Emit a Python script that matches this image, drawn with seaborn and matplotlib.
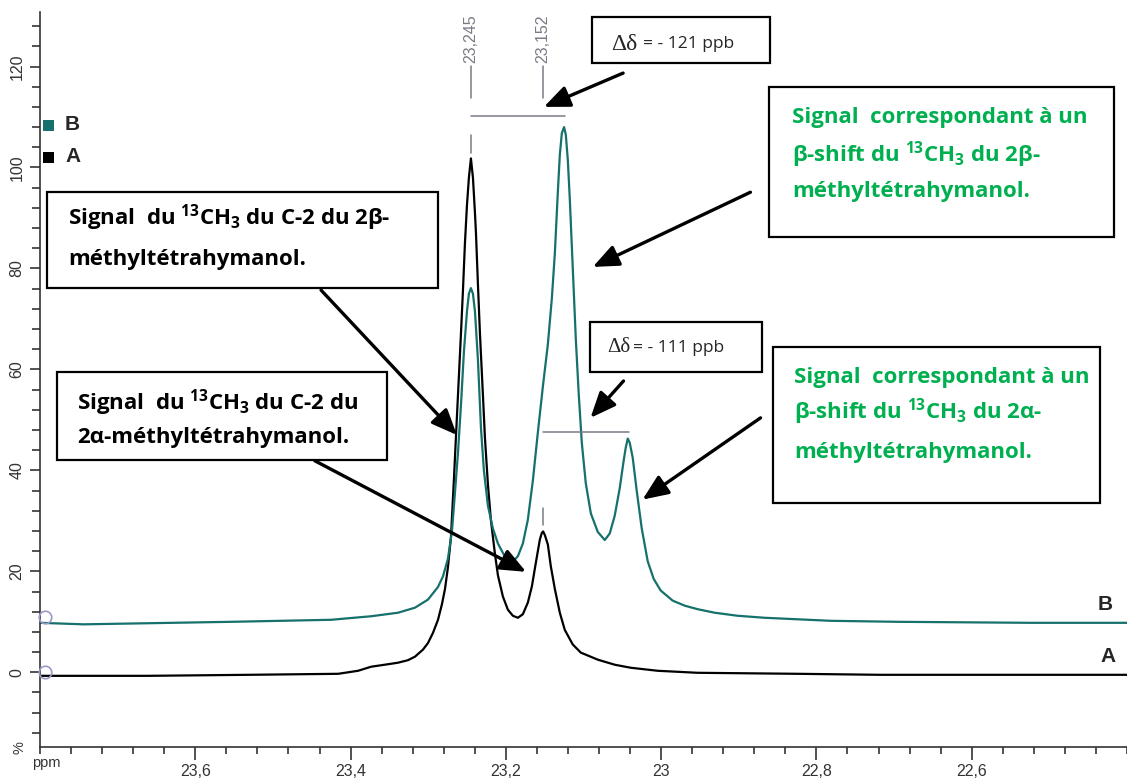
import pandas as pd
import matplotlib
matplotlib.use('Agg')
import matplotlib.pyplot as plt
from matplotlib.patches import Rectangle
from matplotlib.ticker import FixedLocator, MultipleLocator
import seaborn as sns

# spectrum A (black): ppm / intensity %
ppm_a = [23.800, 23.6604, 23.5318, 23.4160, 23.3903, 23.3736, 23.3517, 23.3389, 23.3260, 23.3170,
         23.3067, 23.3003, 23.2939, 23.2874, 23.2823, 23.2784, 23.2746, 23.2707, 23.2668, 23.2643,
         23.2617, 23.2578, 23.2553, 23.2527, 23.2501, 23.2476, 23.2450, 23.2424, 23.2398, 23.2385,
         23.2360, 23.2334, 23.2295, 23.2270, 23.2231, 23.2193, 23.2141, 23.2102, 23.2038, 23.1974,
         23.1910, 23.1845, 23.1781, 23.1717, 23.1665, 23.1627, 23.1588, 23.1562, 23.1537, 23.1520,
         23.1498, 23.1459, 23.1421, 23.1369, 23.1305, 23.1241, 23.1138, 23.1035, 23.0816, 23.0598,
         23.0392, 23.0045, 22.9530, 22.8244, 22.7176, 22.400]
int_a = [-0.7, -0.7, -0.5, -0.3, 0.3, 1.1, 1.6, 1.9, 2.4, 3.1,
         4.5, 5.8, 7.8, 10.4, 13.5, 16.5, 20.8, 26.8, 38.5, 46.6,
         54.8, 67.2, 75.5, 85.0, 92.5, 98.0, 101.8, 98.0, 91.0, 87.0,
         77.0, 67.2, 54.8, 46.6, 37.2, 30.2, 23.5, 19.2, 15.0, 12.4,
         11.2, 10.8, 11.5, 13.8, 17.0, 20.5, 24.0, 26.3, 27.6, 27.9,
         27.2, 25.3, 21.0, 16.5, 11.8, 8.4, 5.5, 3.9, 2.5, 1.5,
         0.9, 0.3, -0.1, -0.3, -0.5, -0.5]

# spectrum B (teal)
ppm_b = [23.800, 23.744, 23.5537, 23.4251, 23.3736, 23.3389, 23.3170, 23.3003, 23.2874, 23.2810,
         23.2746, 23.2694, 23.2656, 23.2617, 23.2578, 23.2540, 23.2501, 23.2476, 23.2450, 23.2424,
         23.2398, 23.2360, 23.2321, 23.2283, 23.2231, 23.2167, 23.2102, 23.2012, 23.1910, 23.1845,
         23.1781, 23.1717, 23.1652, 23.1588, 23.1524, 23.1459, 23.1408, 23.1369, 23.1331, 23.1305,
         23.1279, 23.1250, 23.1228, 23.1202, 23.1176, 23.1138, 23.1099, 23.1061, 23.1022, 23.0971,
         23.0906, 23.0816, 23.0726, 23.0662, 23.0598, 23.0533, 23.0482, 23.0456, 23.0430, 23.0405,
         23.0366, 23.0315, 23.0250, 23.0173, 23.0096, 23.0006, 22.9852, 22.9697, 22.9530, 22.9311,
         22.9016, 22.8668, 22.8244, 22.7820, 22.6958, 22.5247, 22.400]
int_b = [9.8, 9.5, 10.0, 10.4, 11.1, 11.8, 12.8, 14.4, 16.9, 19.0,
         22.5, 28.0, 35.5, 43.4, 53.0, 63.5, 71.5, 75.0, 76.1, 75.0,
         71.5, 62.0, 48.5, 40.0, 33.0, 28.5, 25.5, 22.9, 21.9, 23.0,
         25.5, 30.2, 38.0, 47.5, 56.5, 65.0, 74.0, 83.0, 95.0, 102.5,
         106.8, 108.0, 106.5, 101.5, 93.6, 80.0, 66.0, 55.0, 45.5, 37.5,
         31.5, 27.8, 26.2, 27.5, 31.0, 36.5, 42.0, 44.5, 46.3, 45.5,
         42.5, 36.0, 28.5, 22.0, 18.5, 16.2, 14.2, 13.2, 12.5, 11.8,
         11.2, 10.8, 10.5, 10.2, 10.0, 9.8, 9.8]

x_ticks = [23.6, 23.4, 23.2, 23.0, 22.8, 22.6]
x_labels = ['23,6', '23,4', '23,2', '23', '22,8', '22,6']
y_ticks = [0, 20, 40, 60, 80, 100, 120]
y_labels = ['0', '20', '40', '60', '80', '100', '120']

peak_pos = [23.245, 23.152]
peak_text = ['23,245', '23,152']
shift_b = [23.124, 23.041]   # shifted peaks in B
offsets = [11.0, 0.0]        # reference circles for B and A

TEAL = '#16706b'
GREEN = '#00b050'
GREY = '#7a7a86'
BOXFONT = ['Open Sans', 'DejaVu Sans']

df = pd.concat([
    pd.DataFrame({'ppm': ppm_a, 'val': int_a, 'spec': 'A'}),
    pd.DataFrame({'ppm': ppm_b, 'val': int_b, 'spec': 'B'}),
])

sns.set_theme(style='ticks')
plt.rcParams['font.family'] = ['Liberation Sans', 'DejaVu Sans']
plt.rcParams['mathtext.fontset'] = 'custom'
plt.rcParams['mathtext.bf'] = 'Open Sans:bold'
plt.rcParams['mathtext.rm'] = 'Open Sans'

W, H = 1127, 780
fig = plt.figure(figsize=(W / 100, H / 100), dpi=100)
ax = fig.add_axes([40 / W, 33 / H, 1 - 40 / W, (747 - 12) / H])

sns.lineplot(data=df, x='ppm', y='val', hue='spec', palette={'A': 'black', 'B': TEAL},
             sort=False, estimator=None, legend=False, lw=1.6, ax=ax)

ax.set_xlim(23.8, 22.4)
ax.set_ylim(-14.8, 130.8)
ax.set_xlabel('')
ax.set_ylabel('')
for s in ['top', 'right']:
    ax.spines[s].set_visible(False)
for s in ['left', 'bottom']:
    ax.spines[s].set_color('#333333')
    ax.spines[s].set_linewidth(1.2)

ax.xaxis.set_major_locator(FixedLocator(x_ticks))
ax.set_xticklabels(x_labels)
ax.xaxis.set_minor_locator(MultipleLocator(0.04))
ax.yaxis.set_major_locator(FixedLocator(y_ticks))
ax.set_yticklabels(y_labels, rotation=90, va='center')
ax.yaxis.set_minor_locator(MultipleLocator(4))
ax.tick_params(axis='x', which='major', length=9, width=1.2, color='#333333',
               labelsize=11.5, labelcolor='#333333', pad=3)
ax.tick_params(axis='x', which='minor', length=5, width=1.2, color='#333333')
ax.tick_params(axis='y', which='major', length=7, width=1.2, color='#333333',
               labelsize=11.5, labelcolor='#333333', pad=4)
ax.tick_params(axis='y', which='minor', length=6, width=1.2, color='#333333')

# reference circles at the left edge
ax.plot([23.794] * len(offsets), offsets, 'o', mfc='none', mec='#9a9ac8', ms=9, mew=1.2,
        clip_on=False, zorder=5)

# peak position labels
for p, t in zip(peak_pos, peak_text):
    ax.plot([p, p], [113.8, 120.2], color=GREY, lw=1.1)
    ax.text(p, 120.6, t, rotation=90, ha='center', va='bottom', fontsize=11.5, color=GREY)
ax.plot([peak_pos[0]] * 2, [102.9, 106.4], color=GREY, lw=1.1)
ax.plot([peak_pos[1]] * 2, [29.2, 32.6], color=GREY, lw=1.1)
# delta bars
ax.plot([peak_pos[0], shift_b[0]], [110.1, 110.1], color=GREY, lw=1.1)
ax.plot([peak_pos[1], shift_b[1]], [47.6, 47.6], color=GREY, lw=1.1)


def fpos(x, y):
    return x / W, 1 - y / H


def box(x0, y0, x1, y1):
    fig.add_artist(Rectangle(fpos(x0, y1), (x1 - x0) / W, (y1 - y0) / H,
                             transform=fig.transFigure, fc='white', ec='black', lw=1.6))


def line(x, y, s, color='black'):
    fig.text(*fpos(x, y), s, ha='left', va='center', fontsize=16, fontweight='bold',
             color=color, family=BOXFONT)


arrow = dict(arrowstyle='-|>,head_length=1.3,head_width=0.55', color='black', lw=2.4,
             shrinkA=0, shrinkB=0)
arrows = [((23.049, 118.7), (23.151, 112.0)),
          ((23.0485, 57.7), (23.091, 50.4)),
          ((22.885, 95.1), (23.088, 80.3)),
          ((22.872, 50.4), (23.024, 34.2)),
          ((23.438, 75.7), (23.263, 47.0)),
          ((23.446, 41.9), (23.174, 19.9))]
for start, tip in arrows:
    ax.annotate('', xy=tip, xytext=start, arrowprops=arrow, annotation_clip=False)

ch3 = r'$\mathbf{{}^{13}CH_3}$'

# delta boxes
box(592, 17, 770, 63)
fig.text(*fpos(611, 44), 'Δδ', ha='left', va='center', fontsize=17, family='Liberation Serif')
fig.text(*fpos(643, 44), '= - 121 ppb', ha='left', va='center', fontsize=12.5,
         family=BOXFONT)
box(590, 322, 762, 372)
fig.text(*fpos(607, 348), 'Δδ', ha='left', va='center', fontsize=15, family='Liberation Serif')
fig.text(*fpos(633, 348), '= - 111 ppb', ha='left', va='center', fontsize=12.5,
         family=BOXFONT)

# green boxes
box(769, 87, 1114, 237)
line(792, 117, 'Signal  correspondant à un', GREEN)
line(792, 155, 'β-shift du ' + ch3 + ' du 2β-', GREEN)
line(792, 192, 'méthyltétrahymanol.', GREEN)
box(773, 347, 1100, 503)
line(794, 377, 'Signal  correspondant à un', GREEN)
line(794, 412, 'β-shift du ' + ch3 + ' du 2α-', GREEN)
line(794, 452, 'méthyltétrahymanol.', GREEN)

# black boxes
box(47, 192, 438, 288)
line(68, 218, 'Signal  du ' + ch3 + ' du C-2 du 2β-')
line(68, 260, 'méthyltétrahymanol.')
box(57, 372, 387, 460)
line(77, 403, 'Signal  du ' + ch3 + ' du C-2 du')
line(77, 438, '2α-méthyltétrahymanol.')

# legend squares
fig.add_artist(Rectangle(fpos(43, 131), 11 / W, 11 / H, transform=fig.transFigure,
                         fc=TEAL, ec='none'))
fig.add_artist(Rectangle(fpos(43, 163), 11 / W, 11 / H, transform=fig.transFigure,
                         fc='black', ec='none'))
fig.text(*fpos(65, 125), 'B', ha='left', va='center', fontsize=15, fontweight='bold')
fig.text(*fpos(65, 157), 'A', ha='left', va='center', fontsize=15, fontweight='bold')
fig.text(*fpos(1098, 604), 'B', ha='left', va='center', fontsize=15, fontweight='bold')
fig.text(*fpos(1100, 657), 'A', ha='left', va='center', fontsize=15, fontweight='bold')

fig.text(*fpos(46, 763), 'ppm', ha='center', va='center', fontsize=10.5, color='#333333')
fig.text(*fpos(19, 748), '%', ha='center', va='center', fontsize=10.5, color='#333333',
         rotation=90)

fig.savefig('out.png', dpi=100)
